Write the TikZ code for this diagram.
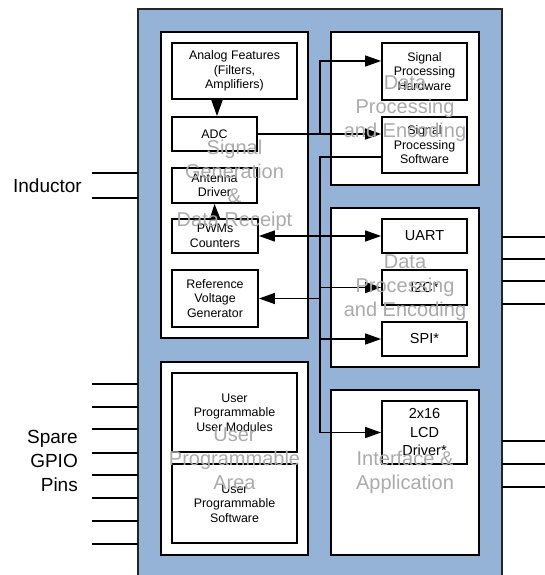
\documentclass[tikz,border=0pt]{standalone}
\usepackage{fontspec}
\setmainfont{Liberation Sans}
\usetikzlibrary{arrows.meta}
\definecolor{chipblue}{HTML}{95B3D7}
\definecolor{wm}{HTML}{ABABAB}
\tikzset{
  panel/.style={draw=black, fill=white, line width=1.8pt, inner sep=0pt, rectangle},
  box/.style={draw=black, fill=white, line width=1.8pt, inner sep=0pt, rectangle, align=center,
    font=\fontsize{12.4}{14.5}\selectfont},
  bigbox/.style={box, font=\fontsize{14.5}{18.5}\selectfont},
  mark wm/.style={text=wm, align=center, font=\fontsize{20}{24}\selectfont, inner sep=0pt},
  conn/.style={line width=1.4pt, draw=black},
  arr/.style={conn, -{Triangle[length=16pt,width=11pt]}},
  darr/.style={conn, {Triangle[length=16pt,width=11pt]}-{Triangle[length=16pt,width=11pt]}},
  pin/.style={line width=1.4pt, draw=black},
  lbl/.style={font=\fontsize{19}{24}\selectfont, align=right, inner sep=0pt}
}
\begin{document}
\begin{tikzpicture}[x=1pt,y=-1pt]
\useasboundingbox (0,0) rectangle (545,575);
% chip body
\filldraw[fill=chipblue, draw=black!85, line width=1.5pt] (138,9) rectangle (502,590);
% panels
\node[panel, minimum width=147, minimum height=306] (p1) at (234.5,185) {};
\node[panel, minimum width=147, minimum height=193] (p2) at (234.5,458.5) {};
\node[panel, minimum width=148, minimum height=153] (p3) at (405,108.5) {};
\node[panel, minimum width=148, minimum height=159] (p4) at (405,287.5) {};
\node[panel, minimum width=148, minimum height=165] (p5) at (405,472.5) {};
% boxes
\node[box, minimum width=125, minimum height=56] (af) at (234.5,71) {Analog Features\\(Filters,\\Amplifiers)};
\node[box, minimum width=85, minimum height=34] (adc) at (214.5,134) {ADC};
\node[box, minimum width=85, minimum height=35] (ant) at (214.5,185.5) {Antenna\\Driver};
\node[box, minimum width=86, minimum height=34] (pwm) at (215,236) {PWMs\\Counters};
\node[box, minimum width=86, minimum height=57] (ref) at (215,298.5) {Reference\\Voltage\\Generator};
\node[box, minimum width=85, minimum height=57] (hw) at (424.5,71.5) {Signal\\Processing\\Hardware};
\node[box, minimum width=85, minimum height=56] (sw) at (424.5,145) {Signal\\Processing\\Software};
\node[bigbox, minimum width=85, minimum height=34] (uart) at (424.5,236) {UART};
\node[bigbox, minimum width=85, minimum height=35] (i2c) at (424.5,287.5) {I2C*};
\node[bigbox, minimum width=85, minimum height=34] (spi) at (424.5,339) {SPI*};
\node[bigbox, minimum width=85, minimum height=63] (lcd) at (424.5,432.5) {2x16\\LCD\\Driver*};
\node[box, minimum width=125, minimum height=79] (um) at (234.5,412.5) {User\\Programmable\\User Modules};
\node[box, minimum width=125, minimum height=79] (us) at (234.5,503.5) {User\\Programmable\\Software};
% internal arrows
\draw[arr] (af.south -| 217,0) -- (adc.north -| 217,0);
\draw[arr] (pwm.north) -- (ant.south);
% bus coordinates
\coordinate (bx) at (320,0);
\draw[arr] (adc.east) -- (adc.east -| sw.west);
\draw[arr] (adc.east -| bx) |- ([yshift=10.5pt]hw.west);
\draw[darr] (pwm.east) -- (uart.west);
\draw[conn] ([yshift=-12pt]sw.west) -| (bx |- lcd.west);
\draw[arr] (bx |- lcd.west) -- (lcd.west);
\draw[arr] (bx |- i2c.west) -- (i2c.west);
\draw[arr] (bx |- spi.west) -- (spi.west);
\draw[arr] (bx |- ref.east) -- (ref.east);
% watermarks
\node[mark wm] (w1) at (p1.center) {Signal\\Generation\\\&\\Data Receipt};
\node[mark wm] (w2) at (p2.center) {User\\Programmable\\Area};
\node[mark wm] (w3) at (p3.center) {Data\\Processing\\and Encoding};
\node[mark wm] (w4) at (p4.center) {Data\\Processing\\and Encoding};
\node[mark wm] (w5) at (p5.center) {Interface \&\\Application};
% pins
\foreach \y in {173,198} \draw[pin] (92,\y) -- (138,\y);
\foreach \y in {384,407,429,453,475,498,521,544} \draw[pin] (92,\y) -- (138,\y);
\foreach \y in {237,259,281,304,441,464,487} \draw[pin] (502,\y) -- (545,\y);
\node[lbl, anchor=east] (ind) at (82,185.5) {Inductor};
\node[lbl, anchor=east] (gpio) at (78,461) {Spare\\GPIO\\Pins};
\end{tikzpicture}
\end{document}
